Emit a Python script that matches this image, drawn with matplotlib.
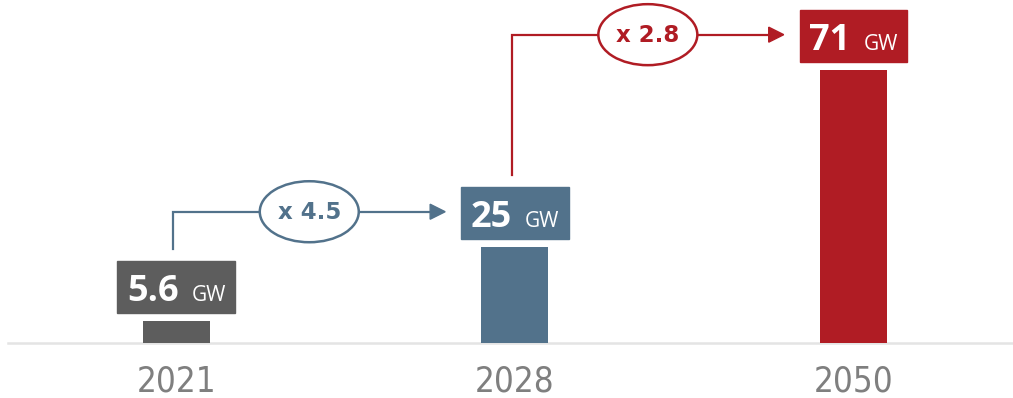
import matplotlib.pyplot as plt
from matplotlib.patches import Rectangle, Ellipse, Polygon
from matplotlib.transforms import IdentityTransform

years = ['2021', '2028', '2050']
capacity = [5.6, 25, 71]
value_labels = ['5.6', '25', '71']
growth = ['x 4.5', 'x 2.8']
colors = ['#5d5d5d', '#52728b', '#b01c24']

fig = plt.figure(figsize=(10.13, 3.98), dpi=100)
ax = fig.add_axes([0, 0, 1, 1])
ax.set_xlim(-0.521, 2.471)
ax.set_ylim(-14.3, 89.1)
ax.axis('off')

ax.bar(range(3), capacity, width=0.198, color=colors, zorder=2)
ax.axhline(0, xmin=0.008, color='#e4e4e4', lw=1.8, zorder=1)

px = IdentityTransform()
renderer = fig.canvas.get_renderer()

boxes = []
for i, (v, lab) in enumerate(zip(capacity, value_labels)):
    cx, top = ax.transData.transform((i, v))
    base = top + 8
    t1 = ax.text(0, 0, lab, transform=px, fontsize=26, fontweight='bold',
                 color='white', family='Open Sans', va='baseline', ha='left', zorder=5)
    t2 = ax.text(0, 0, 'GW', transform=px, fontsize=15,
                 color='white', family='Open Sans', va='baseline', ha='left', zorder=5)
    w1 = t1.get_window_extent(renderer).width
    w2 = t2.get_window_extent(renderer).width
    gap = 13
    total = w1 + gap + w2
    x0 = cx - total / 2
    t1.set_position((x0, base + 12))
    t2.set_position((x0 + w1 + gap, base + 12))
    bw = total + 19
    ax.add_patch(Rectangle((cx - bw / 2, base), bw, 52, transform=px,
                           color=colors[i], zorder=4))
    boxes.append((cx, base, bw))

    # year label
    ax.text(cx, 17, years[i], transform=px, fontsize=25, color='#7f7f7f',
            family='DejaVu Sans', fontstretch='condensed', ha='center', va='center')

# growth connectors
for k in range(2):
    cx, base, bw = boxes[k]
    ncx, nbase, nbw = boxes[k + 1]
    col = colors[k + 1]
    xs = cx - 3
    ys = base + 52 + 12
    yl = nbase + 26 + 1
    xt = ncx - nbw / 2 - 16
    ax.plot([xs, xs, xt - 10], [ys, yl, yl], transform=px, color=col,
            lw=1.6, zorder=3, solid_joinstyle='miter')
    ax.add_patch(Polygon([[xt, yl], [xt - 15, yl + 7.5], [xt - 15, yl - 7.5]],
                         closed=True, transform=px, color=col, zorder=3))
    mx = (xs + xt) / 2
    ax.add_patch(Ellipse((mx, yl), 99, 61, transform=px, facecolor='white',
                         edgecolor=col, lw=1.8, zorder=4))
    ax.text(mx, yl - 1, growth[k], transform=px, fontsize=16.5, fontweight='bold',
            color=col, family='DejaVu Sans', ha='center', va='center', zorder=5)

fig.savefig('out.png', dpi=100)
